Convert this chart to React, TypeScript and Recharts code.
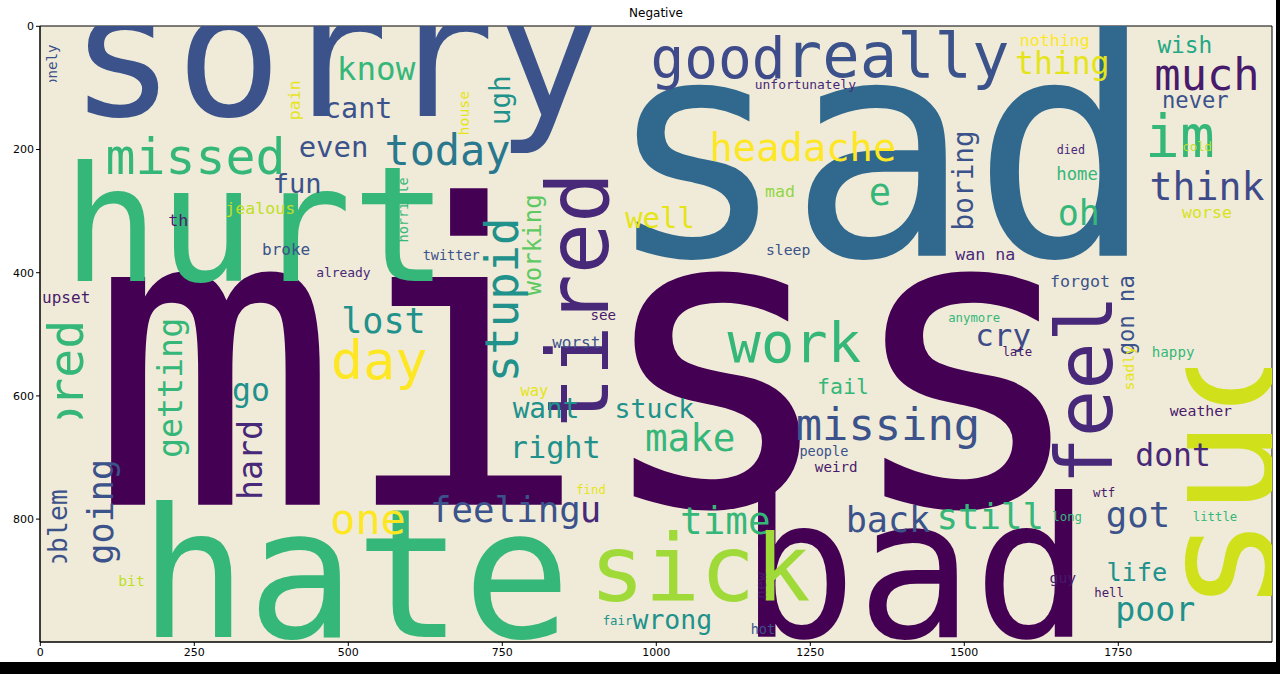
import { ScatterChart, Scatter, XAxis, YAxis, ReferenceArea } from 'recharts';

const words = ['sorry','sad','miss','hurt','hate','bad','suck','good','really','missed','today','even','headache','im','much','wish','never','thing','know','cant','ugh','pain','unfortunately','nothing','lonely','house','cold','died','tired','think','e','oh','well','boring','fun','jealous','th','mad','home','worse','horrible','working','stupid','broke','twitter','already','sleep','wan na','forgot','upset','lost','work','feel','gon na','cry','anymore','see','worst','day','bored','late','happy','sadly','way','getting','go','fail','missing','want','stuck','make','right','hard','weather','dont','people','weird','one','feeling','u','going','problem','time','back','still','got','find','wtf','long','little','life','sick','guy','new','bit','poor','hell','wrong','fair','hot'];
const xs = [479,1363,893,349,511,1420,1915,1100,1391,252,661,476,1238,1850,1894,1858,1875,1659,545,516,747,412,1242,1647,19,687,1878,1673,873,1894,1363,1686,1006,1498,417,357,224,1201,1683,1894,588,800,750,399,667,492,1214,1534,1688,42,557,1224,1696,1763,1563,1516,914,870,550,42,1586,1839,1766,802,211,342,1303,1376,821,997,1055,836,341,1884,1839,1272,1292,532,755,893,97,28,1112,1376,1542,1782,894,1727,1667,1907,1780,1071,1660,1169,148,1810,1735,1026,937,1173];
const ys = [47,201,542,323,891,882,639,52,47,212,201,196,196,180,79,31,120,60,70,133,120,120,94,23,71,141,196,200,444,261,269,302,311,250,255,295,315,268,240,303,298,355,444,363,371,399,363,371,415,440,477,514,590,469,501,474,469,513,542,594,529,529,555,592,587,590,584,647,620,620,668,683,704,624,696,689,715,800,785,785,788,842,803,800,796,793,753,757,796,796,886,882,894,908,899,947,920,963,965,978];
const sizes = [287,495,676,260,291,315,260,91,101,81,68,47,63,94,71,37,36,51,53,46,45,27,21,27,23,24,20,19,138,62,60,57,47,45,44,27,27,27,28,27,22,39,74,26,22,21,24,27,27,26,57,90,128,36,50,20,23,26,87,78,20,23,24,25,54,51,35,71,45,43,61,49,54,24,51,22,23,68,58,58,57,43,61,57,58,58,20,20,20,20,41,149,24,24,24,54,20,43,20,22];
const vertical = ['suck','ugh','pain','lonely','house','tired','boring','horrible','working','stupid','feel','gon na','bored','sadly','getting','hard','going','problem','new'];
const colors: Record<string, string> = {
  sorry:'#3b528b',sad:'#31688e',miss:'#440154',hurt:'#35b779',hate:'#35b779',bad:'#440154',suck:'#d0e11c',good:'#3e4a89',really:'#3b528b',
  missed:'#35b779',today:'#2a788e',even:'#3b528b',headache:'#fde725',im:'#35b779',much:'#481a6c',wish:'#22a884',never:'#3b528b',thing:'#e5e419',
  know:'#35b779',cant:'#3b528b',ugh:'#21918c',pain:'#e5e419',unfortunately:'#482878',nothing:'#fde725',lonely:'#3b528b',house:'#e5e419',cold:'#bddf26',
  died:'#482878',tired:'#482878',think:'#3e4a89',e:'#35b779',oh:'#35b779',well:'#e5e419',boring:'#3b528b',fun:'#3b528b',jealous:'#bddf26',th:'#481a6c',
  mad:'#90d743',home:'#35b779',worse:'#d8e219',horrible:'#35b779',working:'#5ec962',stupid:'#21918c',broke:'#3b528b',twitter:'#3b528b',already:'#482878',
  sleep:'#3b528b','wan na':'#482878',forgot:'#3b528b',upset:'#481a6c',lost:'#21918c',work:'#35b779',feel:'#482878','gon na':'#3b528b',cry:'#3e4a89',
  anymore:'#35b779',see:'#481a6c',worst:'#3b528b',day:'#fde725',bored:'#35b779',late:'#481a6c',happy:'#35b779',sadly:'#e5e419',way:'#e5e419',
  getting:'#35b779',go:'#21918c',fail:'#35b779',missing:'#3b528b',want:'#21918c',stuck:'#21918c',make:'#35b779',right:'#21918c',hard:'#482878',
  weather:'#481a6c',dont:'#482878',people:'#3b528b',weird:'#481a6c',one:'#fde725',feeling:'#3b528b',u:'#482878',going:'#3b528b',problem:'#3b528b',
  time:'#35b779',back:'#3b528b',still:'#35b779',got:'#3b528b',find:'#e5e419',wtf:'#481a6c',long:'#35b779',little:'#35b779',life:'#21918c',
  sick:'#a0da39',guy:'#481a6c',new:'#481a6c',bit:'#bddf26',poor:'#21918c',hell:'#481a6c',wrong:'#21918c',fair:'#21918c',hot:'#3b528b',
};

const data = words.map((w, i) => ({ word: w, x: xs[i], y: ys[i], size: sizes[i] }));
const PX = 1232 / 2000;

function Word(props: any) {
  const { cx, cy, payload } = props;
  if (cx == null || cy == null) return null;
  const rot = vertical.includes(payload.word);
  return (
    <text
      x={cx}
      y={cy}
      textAnchor="middle"
      dominantBaseline="central"
      fontFamily="DejaVu Sans Mono"
      fontSize={payload.size * PX}
      fill={colors[payload.word]}
      clipPath="url(#plotClip)"
      transform={rot ? `rotate(-90 ${cx} ${cy})` : undefined}
    >
      {payload.word}
    </text>
  );
}

export default function App() {
  return (
    <div style={{ position: 'absolute', left: 0, top: 0, width: 1280, height: 674, background: '#000' }}>
      <div style={{ position: 'absolute', left: 0, top: 0, width: 1276, height: 662, background: '#fff' }} />
      <svg width={0} height={0} style={{ position: 'absolute' }}>
        <defs>
          <clipPath id="plotClip" clipPathUnits="userSpaceOnUse">
            <rect x={40} y={26} width={1232} height={616} />
          </clipPath>
        </defs>
      </svg>
      <div style={{ position: 'absolute', left: 40, top: 6, width: 1232, textAlign: 'center', fontFamily: 'DejaVu Sans', fontSize: 12 }}>
        Negative
      </div>
      <div style={{ position: 'absolute', left: 0, top: 0 }}>
        <ScatterChart width={1280} height={674} margin={{ top: 26, right: 8, bottom: 0, left: 0 }}>
          <XAxis type="number" dataKey="x" domain={[-0.5, 1999.5]} ticks={[0, 250, 500, 750, 1000, 1250, 1500, 1750]}
            height={32} tick={{ fontSize: 11, fill: '#000', fontFamily: 'DejaVu Sans' }} stroke="#000" tickSize={4} allowDataOverflow />
          <YAxis type="number" dataKey="y" domain={[-0.5, 999.5]} reversed ticks={[0, 200, 400, 600, 800]}
            width={40} tick={{ fontSize: 11, fill: '#000', fontFamily: 'DejaVu Sans' }} stroke="#000" tickSize={4} allowDataOverflow />
          <ReferenceArea x1={-0.5} x2={1999.5} y1={-0.5} y2={999.5} fill="#f0ebd8" fillOpacity={1} stroke="#000" strokeWidth={1} />
          <Scatter data={data} shape={Word} isAnimationActive={false} />
        </ScatterChart>
      </div>
    </div>
  );
}
